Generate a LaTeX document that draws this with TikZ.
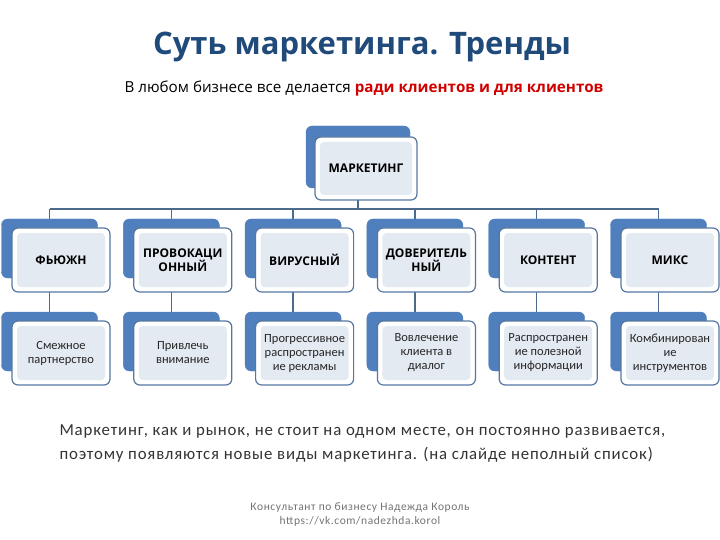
\documentclass[tikz,border=0pt]{standalone}
\usepackage{fontspec}
\setmainfont{Open Sans}
\newfontfamily\bodyfont{Carlito}
\newfontfamily\bodyspaced[LetterSpace=5]{Carlito}
\usetikzlibrary{backgrounds}
\definecolor{backblue}{HTML}{4F7FBC}
\definecolor{edgeblue}{HTML}{5677A0}
\definecolor{innerfill}{HTML}{E4EAF2}
\definecolor{linecol}{HTML}{4C6A8C}
\definecolor{titleblue}{HTML}{1F4A7A}
\definecolor{redtext}{HTML}{D00000}
\tikzset{
 backcard/.style={fill=backblue, draw=backblue, rounded corners=6pt, minimum width=96pt, minimum height=59pt, inner sep=0pt},
 frontcard/.style={fill=white, draw=edgeblue, line width=1.2pt, rounded corners=6pt, minimum width=98pt, minimum height=64pt, inner sep=0pt},
 innercard/.style={fill=innerfill, rounded corners=4pt, minimum width=88pt, minimum height=54pt, inner sep=0pt, align=center},
 connector/.style={draw=linecol, line width=1.4pt},
 toptext/.style={font=\fontsize{12}{14}\selectfont\bfseries},
 subtext/.style={font=\bodyfont\fontsize{12.5}{14}\selectfont, text=black!85},
}
\newcommand\mkcard[5]{%
  \node[backcard] (#1b) at (#2-11.5, #3-11.5) {};
  \node[frontcard] (#1) at (#2,#3) {};
  \node[innercard, #4] (#1t) at (#2,#3) {#5};
}
\begin{document}
\begin{tikzpicture}[x=1pt,y=-1pt]
\useasboundingbox (0,0) rectangle (720,540);
\node (title) at (362,47) {\fontsize{31}{34}\selectfont\bfseries\color{titleblue}Суть маркетинга. Тренды};
\node (sub) at (364,89) {\fontsize{15.2}{17}\selectfont В любом бизнесе все делается \textcolor{redtext}{\bfseries ради клиентов и для клиентов}};
% marketing
\node[backcard, minimum width=104pt, minimum height=62pt] (mkb) at (358,157) {};
\node[frontcard, minimum width=102pt, minimum height=63pt] (mk) at (366,168.5) {};
\node[innercard, minimum width=92pt, minimum height=53pt, toptext] (mkt) at (366,168.5) {МАРКЕТИНГ};
% row 1
\mkcard{a1}{61}{260}{toptext}{ФЬЮЖН}
\mkcard{a2}{182.8}{260}{toptext}{ПРОВОКАЦИ\\ОННЫЙ}
\mkcard{a3}{304.6}{260}{toptext}{ВИРУСНЫЙ}
\mkcard{a4}{426.4}{260}{toptext}{ДОВЕРИТЕЛЬ\\НЫЙ}
\mkcard{a5}{548.2}{260}{toptext}{КОНТЕНТ}
\mkcard{a6}{670}{260}{toptext}{МИКС}
% row 2
\mkcard{b1}{61}{353}{subtext}{Смежное\\партнерство}
\mkcard{b2}{182.8}{353}{subtext}{Привлечь\\внимание}
\mkcard{b3}{304.6}{353}{subtext}{Прогрессивное\\распространен\\ие рекламы}
\mkcard{b4}{426.4}{353}{subtext}{Вовлечение\\клиента в\\диалог}
\mkcard{b5}{548.2}{353}{subtext}{Распространен\\ие полезной\\информации}
\mkcard{b6}{670}{353}{subtext}{Комбинирован\\ие\\инструментов}
\coordinate (bus) at (356,209);
\begin{pgfonlayer}{background}
\draw[connector] (mkb.center) -- (mkb.center |- bus);
\draw[connector] (a1b.center |- bus) -- (a6b.center |- bus);
\foreach \i in {1,...,6}{
  \draw[connector] (a\i b.center |- bus) -- (a\i b.center) -- (b\i b.center);
}
\end{pgfonlayer}
\node[anchor=west, align=left, font=\bodyspaced\fontsize{16.8}{24}\selectfont, text=black!80] (body) at (56,443) {Маркетинг, как и рынок, не стоит на одном месте, он постоянно развивается,\\поэтому появляются новые виды маркетинга. (на слайде неполный список)};
\node[align=center, font=\bodyspaced\fontsize{11.5}{14}\selectfont, text=black!55] (foot) at (360,515) {Консультант по бизнесу Надежда Король\\https://vk.com/nadezhda.korol};
\end{tikzpicture}
\end{document}
